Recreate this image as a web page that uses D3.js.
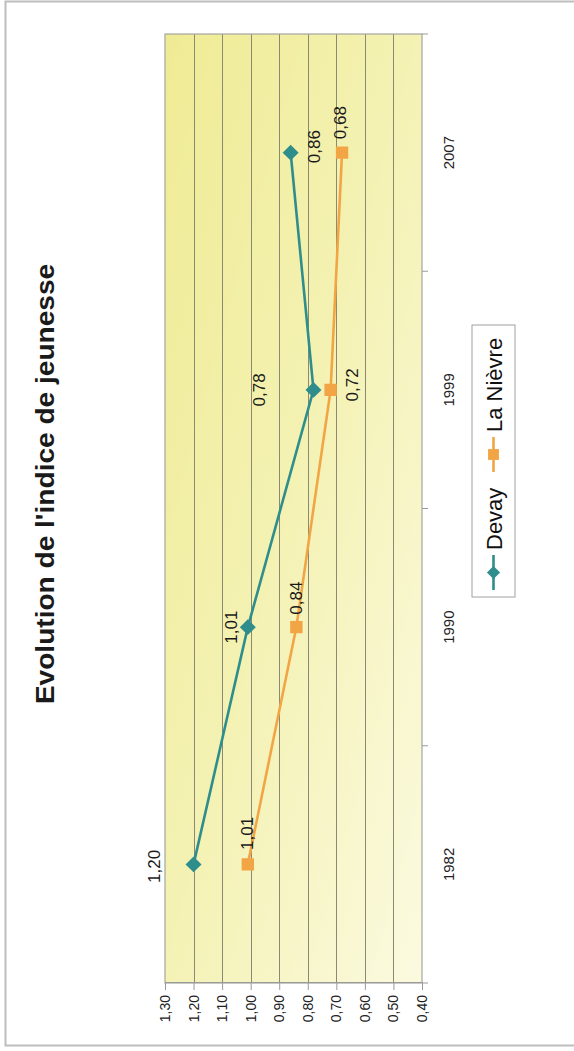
<!DOCTYPE html>
<html>
<head>
<meta charset="utf-8">
<script src="https://cdn.jsdelivr.net/npm/d3@7"></script>
<style>
  html, body { margin: 0; padding: 0; background: #fff; }
  svg { display: block; font-family: "Liberation Sans", Arial, sans-serif; }
</style>
</head>
<body>
<svg id="chart" width="574" height="1051"></svg>
<script>
// Indice de jeunesse, Devay vs La Nièvre
const years = ["1982", "1990", "1999", "2007"];
const devay = [1.20, 1.01, 0.78, 0.86];
const nievre = [1.01, 0.84, 0.72, 0.68];
const valueTicks = [0.40, 0.50, 0.60, 0.70, 0.80, 0.90, 1.00, 1.10, 1.20, 1.30];
const seriesNames = ["Devay", "La Nièvre"];

// Placement of each value label relative to its marker (chart frame, before rotation)
const devayLabelOffset = [[-2, -39], [0, -16], [0, -54], [6, 24]];
const nievreLabelOffset = [[31, 0], [29, 0], [5, 22], [30, -2]];

const teal = "#2f8e8c";
const orange = "#f2a545";
const frac = d3.format(".2f");
const fr = v => frac(v).replace(".", ",");

const svg = d3.select("#chart");

// page frame
svg.append("rect")
  .attr("x", 5.5).attr("y", 1.5).attr("width", 620).attr("height", 1044)
  .attr("fill", "none").attr("stroke", "#bdbdbd").attr("stroke-width", 2);

// background gradient of the plot area: deep yellow in one corner, pale in the opposite one
const defs = svg.append("defs");
const grad = defs.append("linearGradient").attr("id", "bg")
  .attr("x1", "0%").attr("y1", "0%").attr("x2", "100%").attr("y2", "100%");
grad.append("stop").attr("offset", "0%").attr("stop-color", "#efeb94");
grad.append("stop").attr("offset", "50%").attr("stop-color", "#f4f2b4");
grad.append("stop").attr("offset", "100%").attr("stop-color", "#fbfae0");

svg.append("rect").attr("x", 165).attr("y", 34).attr("width", 257).attr("height", 949)
  .attr("fill", "url(#bg)");

// The chart is drawn in a normal frame and turned a quarter turn.
const W = 949, H = 257;
const g = svg.append("g").attr("transform", "translate(165,983) rotate(-90)");

const x = d3.scaleBand().domain(years).range([0, W]);
const cx = d => x(d) + x.bandwidth() / 2;
const y = d3.scaleLinear().domain([0.40, 1.30]).range([H, 0]);

// gridlines
g.append("g").selectAll("line").data(valueTicks.slice(1, -1)).join("line")
  .attr("x1", 0).attr("x2", W)
  .attr("y1", d => Math.round(y(d)) + 0.5).attr("y2", d => Math.round(y(d)) + 0.5)
  .attr("stroke", "#8a8a74").attr("stroke-width", 1);

g.append("rect").attr("x", 0).attr("y", 0).attr("width", W).attr("height", H)
  .attr("fill", "none").attr("stroke", "#a5a5a0").attr("stroke-width", 1.2);

// value axis
const yAxis = d3.axisLeft(y).tickValues(valueTicks).tickSize(7).tickPadding(5)
  .tickFormat(fr);
const ya = g.append("g").call(yAxis);
ya.select(".domain").attr("stroke", "#9a9a9a");
ya.selectAll(".tick line").attr("stroke", "#9a9a9a");
ya.selectAll(".tick text").attr("font-size", 14).attr("fill", "#222")
  .attr("font-family", "Liberation Sans, Arial, sans-serif");

// category axis: ticks between categories, labels centred
const xa = g.append("g").attr("transform", `translate(0,${H})`);
const bounds = d3.range(years.length + 1).map(i => i * x.step());
xa.selectAll("line").data(bounds).join("line")
  .attr("x1", d => d).attr("x2", d => d).attr("y1", 0).attr("y2", 6)
  .attr("stroke", "#9a9a9a");
xa.selectAll("text").data(years).join("text")
  .attr("x", d => cx(d)).attr("y", 28)
  .attr("text-anchor", "middle").attr("dominant-baseline", "middle")
  .attr("font-size", 15).attr("fill", "#222").text(d => d);

// lines and markers
const line = d3.line().x((d, i) => cx(years[i])).y(d => y(d));
g.append("path").datum(nievre).attr("d", line)
  .attr("fill", "none").attr("stroke", orange).attr("stroke-width", 2.6);
g.append("path").datum(devay).attr("d", line)
  .attr("fill", "none").attr("stroke", teal).attr("stroke-width", 2.6);

const diamond = d3.symbol().type(d3.symbolDiamond2).size(110);
const square = d3.symbol().type(d3.symbolSquare2).size(150);

g.append("g").selectAll("path").data(nievre).join("path")
  .attr("transform", (d, i) => `translate(${cx(years[i])},${y(d)})`)
  .attr("d", square).attr("fill", orange).attr("stroke", orange).attr("stroke-width", 1.5);
g.append("g").selectAll("path").data(devay).join("path")
  .attr("transform", (d, i) => `translate(${cx(years[i])},${y(d)})`)
  .attr("d", diamond).attr("fill", teal).attr("stroke", teal).attr("stroke-width", 2);

// value labels
function labels(values, offsets) {
  g.append("g").selectAll("text").data(values).join("text")
    .attr("x", (d, i) => cx(years[i]) + offsets[i][0])
    .attr("y", (d, i) => y(d) + offsets[i][1])
    .attr("text-anchor", "middle").attr("dominant-baseline", "central")
    .attr("font-size", 17).attr("fill", "#1a1a1a").text(fr);
}
labels(devay, devayLabelOffset);
labels(nievre, nievreLabelOffset);

// title
g.append("text").attr("transform", "translate(499,-120) scale(1.08,1)")
  .attr("text-anchor", "middle").attr("dominant-baseline", "central")
  .attr("font-size", 26).attr("font-weight", "bold").attr("fill", "#1a1a1a")
  .text("Evolution de l'indice de jeunesse");

// legend
const lg = g.append("g").attr("transform", "translate(386,307)");
lg.append("rect").attr("x", 0).attr("y", 0).attr("width", 272).attr("height", 43)
  .attr("fill", "#fff").attr("stroke", "#a0a0a0");
const items = [
  { name: seriesNames[0], color: teal, sym: diamond, lx: 7, tx: 47 },
  { name: seriesNames[1], color: orange, sym: square, lx: 125, tx: 165 }
];
items.forEach(it => {
  const ig = lg.append("g");
  ig.append("line").attr("x1", it.lx).attr("x2", it.lx + 35)
    .attr("y1", 21.5).attr("y2", 21.5).attr("stroke", it.color).attr("stroke-width", 2.6);
  ig.append("path").attr("transform", `translate(${it.lx + 17.5},21.5)`)
    .attr("d", it.sym).attr("fill", it.color);
  ig.append("text").attr("x", it.tx).attr("y", 22)
    .attr("dominant-baseline", "central").attr("font-size", 22).attr("fill", "#111")
    .text(it.name);
});
</script>
</body>
</html>
